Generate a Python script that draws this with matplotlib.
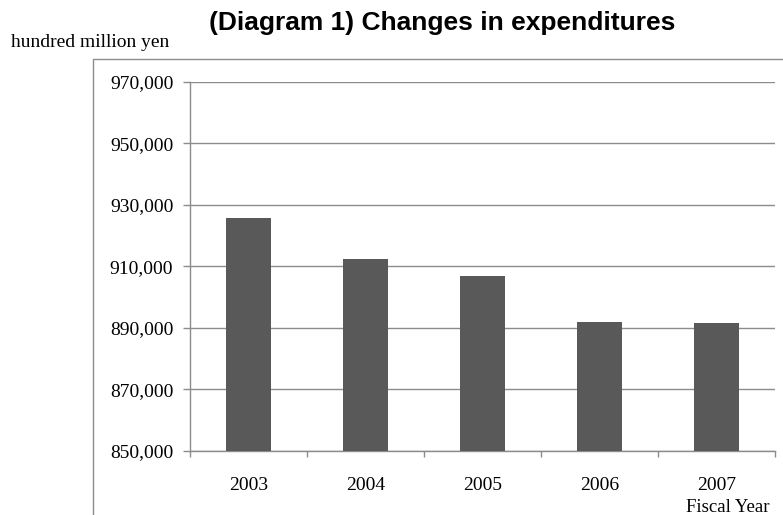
import matplotlib.pyplot as plt
from matplotlib.patches import Rectangle
from matplotlib.ticker import FuncFormatter, FixedLocator, NullFormatter
import numpy as np

years = ['2003', '2004', '2005', '2006', '2007']
expenditures = [925818, 912487, 906973, 892106, 891476]  # hundred million yen

fig = plt.figure(figsize=(7.83, 5.15), dpi=100)
ax = fig.add_axes([0.2427, 0.1243, 0.7473, 0.7165])

x = np.arange(len(years))
ax.bar(x, expenditures, width=0.39, color='#595959', zorder=3)

ax.set_xlim(-0.5, len(years) - 0.5)
ax.set_ylim(850000, 970000)
ax.set_yticks(np.arange(850000, 970001, 20000))
ax.yaxis.set_major_formatter(FuncFormatter(lambda v, p: f'{int(v):,}'))
ax.grid(axis='y', color='#8c8c8c', linewidth=1, zorder=0)

# category labels centred, tick marks on the boundaries
ax.set_xticks(x)
ax.set_xticklabels(years)
ax.tick_params(axis='x', which='major', length=0, pad=19)
ax.xaxis.set_minor_locator(FixedLocator(np.arange(-0.5, len(years), 1.0)))
ax.xaxis.set_minor_formatter(NullFormatter())
ax.tick_params(axis='x', which='minor', length=4.5, color='#8c8c8c', width=1)
ax.tick_params(axis='y', length=5, color='#8c8c8c', width=1, pad=7)

for lab in ax.get_xticklabels() + ax.get_yticklabels():
    lab.set_fontfamily('Liberation Serif')
    lab.set_fontsize(14)

for side in ['top', 'right']:
    ax.spines[side].set_visible(False)
for side in ['left', 'bottom']:
    ax.spines[side].set_color('#8c8c8c')
    ax.spines[side].set_linewidth(1)

# outer chart-area frame
fig.patches.append(Rectangle((93 / 783, -0.2), 1.0, 1.2 - 59 / 515, transform=fig.transFigure,
                             fill=False, edgecolor='#8c8c8c', linewidth=1))

fig.text(442 / 783, 1 - 23 / 515, '(Diagram 1) Changes in expenditures', ha='center', va='center',
         fontsize=19, fontweight='bold', family='Liberation Sans')
fig.text(11 / 783, 1 - 47 / 515, 'hundred million yen', ha='left', va='baseline',
         fontsize=14, family='Liberation Serif')
fig.text(770 / 783, 1 - 512 / 515, 'Fiscal Year', ha='right', va='baseline',
         fontsize=13.5, family='Liberation Serif')

fig.savefig('out.png', dpi=100)
